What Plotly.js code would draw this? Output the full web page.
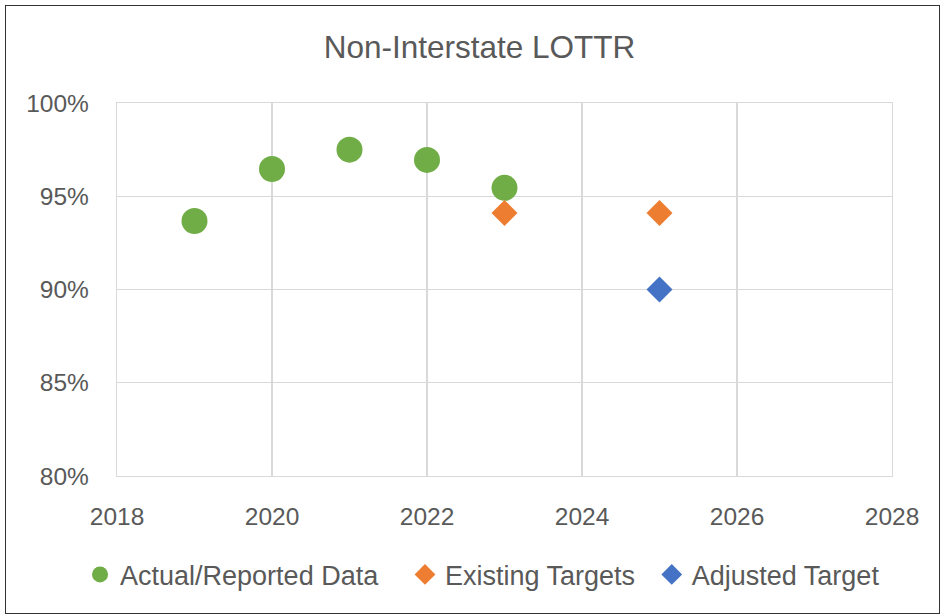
<!DOCTYPE html>
<html>
<head>
<meta charset="utf-8">
<script src="https://cdn.plot.ly/plotly-3.0.1.min.js"></script>
<style>
html,body{margin:0;padding:0;background:#fff;}
#wrap{position:relative;width:944px;height:616px;}
#chart{position:absolute;left:0;top:0;width:944px;height:616px;}
#frame{position:absolute;left:5px;top:5px;width:933px;height:607px;border:1.5px solid #333;pointer-events:none;}
</style>
</head>
<body>
<div id="wrap"><div id="chart"></div><div id="frame"></div></div>
<script>
const actualYears = [2019, 2020, 2021, 2022, 2023];
const actualValues = [0.9367, 0.9646, 0.975, 0.9695, 0.9545];
const existingYears = [2023, 2025];
const existingValues = [0.941, 0.941];
const adjustedYears = [2025];
const adjustedValues = [0.90];
const xTicks = [2018, 2020, 2022, 2024, 2026, 2028];
const yTicks = [0.80, 0.85, 0.90, 0.95, 1.00];
const yTickLabels = ["80%", "85%", "90%", "95%", "100%"];

const fontFam = "'Liberation Sans', Arial, sans-serif";
const traces = [
  {x: actualYears, y: actualValues, name: "Actual/Reported Data", type: "scatter", mode: "markers",
   marker: {symbol: "circle", size: 26, color: "#70AD47"}, legend: "legend"},
  {x: existingYears, y: existingValues, name: "Existing Targets", type: "scatter", mode: "markers",
   marker: {symbol: "diamond", size: 20, color: "#ED7D31"}, legend: "legend2"},
  {x: adjustedYears, y: adjustedValues, name: "Adjusted Target", type: "scatter", mode: "markers",
   marker: {symbol: "diamond", size: 20, color: "#4472C4"}, legend: "legend3"}
];
const legBase = {orientation: "h", xanchor: "left", y: -0.265, yanchor: "middle",
  font: {family: fontFam, size: 27, color: "#595959"}, itemsizing: "trace", bgcolor: "rgba(0,0,0,0)"};
const layout = {
  width: 944, height: 616,
  margin: {l: 117, r: 52, t: 103, b: 140},
  paper_bgcolor: "#fff", plot_bgcolor: "#fff",
  font: {family: fontFam, color: "#595959", size: 24.5},
  title: {text: "Non-Interstate LOTTR", x: 0.508, xanchor: "center", y: 0.923, yanchor: "middle",
          font: {family: fontFam, size: 31.5, color: "#595959"}},
  xaxis: {range: [2018, 2028], tickvals: xTicks, ticktext: xTicks.map(String),
          showgrid: true, gridcolor: "#D9D9D9", gridwidth: 1.3, zeroline: false,
          showline: true, linecolor: "#D9D9D9", linewidth: 1.3, mirror: true,
          ticks: "", ticklabelstandoff: 18, tickfont: {size: 24.5, color: "#595959"}},
  yaxis: {range: [0.80, 1.00], tickvals: yTicks, ticktext: yTickLabels,
          showgrid: true, gridcolor: "#D9D9D9", gridwidth: 1.3, zeroline: false,
          showline: true, linecolor: "#D9D9D9", linewidth: 1.3, mirror: true,
          ticks: "", ticklabelstandoff: 22, tickfont: {size: 24.5, color: "#595959"}},
  showlegend: true,
  legend: Object.assign({}, legBase, {x: -0.0477}),
  legend2: Object.assign({}, legBase, {x: 0.3716}),
  legend3: Object.assign({}, legBase, {x: 0.690})
};
Plotly.newPlot("chart", traces, layout, {displayModeBar: false, staticPlot: true});
</script>
</body>
</html>
